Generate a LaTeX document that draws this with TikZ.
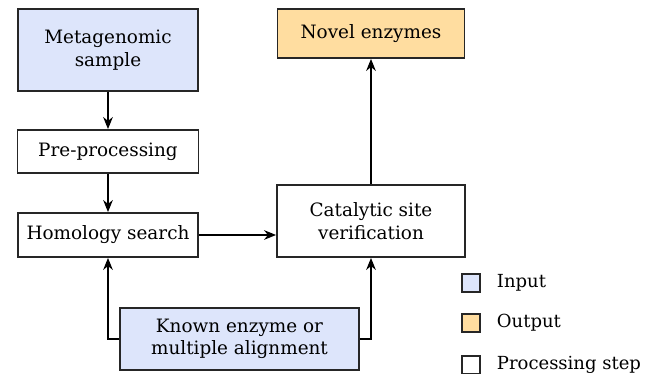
\documentclass[tikz,border=0pt]{standalone}
\usepackage{fontspec}
\setmainfont{DejaVu Serif}
\usetikzlibrary{positioning}
\usetikzlibrary{arrows.meta}
\definecolor{inputblue}{RGB}{221,229,251}
\definecolor{outputorange}{RGB}{255,221,160}

\begin{document}
\begin{tikzpicture}[x=0.5pt, y=-0.5pt, font=\fontsize{9.2}{11.2}\selectfont,
  box/.style={draw=black!85, line width=0.9pt, align=center, inner sep=2pt},
  inbox/.style={box, fill=inputblue},
  outbox/.style={box, fill=outputorange},
  flow/.style={-{Stealth[length=6pt, width=4.8pt]}, line width=1.1pt},
  keybox/.style={draw=black!85, line width=0.9pt, minimum size=9pt, inner sep=0pt},
  keytext/.style={font=\fontsize{9}{11}\selectfont}]
\useasboundingbox (0,0) rectangle (645,374);

% pipeline boxes
\node[inbox, minimum width=90pt, minimum height=41pt] (sample) at (108,50) {Metagenomic\\sample};
\node[box, minimum width=90.5pt, minimum height=21.5pt] (pre) at (108,151.5) {Pre-processing};
\node[box, minimum width=90pt, minimum height=22pt] (homology) at (108,235) {Homology search};
\node[box, minimum width=94pt, minimum height=36pt] (verify) at (371,221) {Catalytic site\\verification};
\node[outbox, minimum width=93.5pt, minimum height=24.5pt] (novel) at (371,33.5) {Novel enzymes};
\node[inbox, minimum width=119.5pt, minimum height=31pt] (known) at (239.5,339) {Known enzyme or\\multiple alignment};

% connectors
\draw[flow] (sample) -- (pre);
\draw[flow] (pre) -- (homology);
\draw[flow] (homology.east) -- (homology.east -| verify.west);
\draw[flow] (verify) -- (novel);
\draw[flow] (known.west) -| (homology.south);
\draw[flow] (known.east) -| (verify.south);

% legend
\node[keybox, fill=inputblue] (keyin) at (471,283) {};
\node[keytext, right=4.5pt of keyin] (keyinlabel) {Input};
\node[keybox, fill=outputorange] (keyout) at (471,323) {};
\node[keytext, right=4.5pt of keyout] (keyoutlabel) {Output};
\node[keybox, fill=white] (keystep) at (471,365) {};
\node[keytext, right=4.5pt of keystep] (keysteplabel) {Processing step};
\end{tikzpicture}
\end{document}
